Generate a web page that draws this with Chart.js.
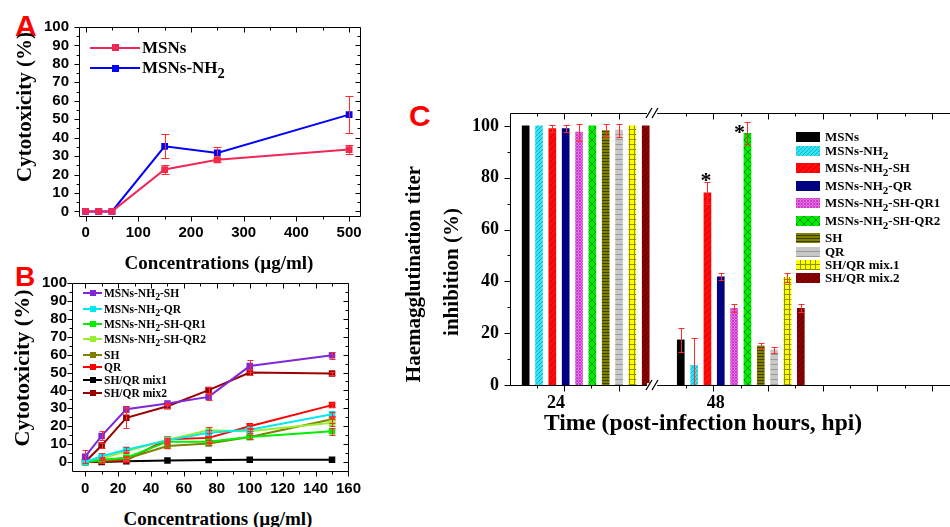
<!DOCTYPE html>
<html><head><meta charset="utf-8">
<script src="https://cdn.jsdelivr.net/npm/chart.js@4.4.1/dist/chart.umd.min.js"></script>
<style>
html,body{margin:0;padding:0;background:#fff;}
body{width:950px;height:527px;overflow:hidden;position:relative;font-family:"Liberation Serif",serif;}
.box{position:absolute;overflow:hidden;}
.letter{position:absolute;color:#ff0000;font-family:"Liberation Sans",Arial,sans-serif;font-weight:bold;line-height:1;}
.title{position:absolute;font-family:"Liberation Serif","Times New Roman",serif;font-weight:bold;white-space:nowrap;line-height:1;color:#000;}
.rot{transform:translate(-50%,-50%) rotate(-90deg);}
.hor{transform:translate(-50%,-50%);}
.leg{position:absolute;font-family:"Liberation Serif","Times New Roman",serif;font-weight:bold;white-space:nowrap;color:#000;}
.row{position:absolute;left:0;display:flex;align-items:center;}
sub{font-size:85%;vertical-align:-0.32em;line-height:0;}
</style></head><body>

<div class="letter" style="left:15px;top:11px;font-size:30px">A</div>
<div class="letter" style="left:15px;top:263px;font-size:28px">B</div>
<div class="letter" style="left:409px;top:101px;font-size:30px">C</div>

<div class="box" style="left:0;top:0;width:370px;height:245px"><canvas id="cA" width="370" height="245"></canvas></div>
<div class="box" style="left:0;top:265px;width:370px;height:230px"><canvas id="cB" width="370" height="230"></canvas></div>
<div class="box" style="left:400px;top:60px;width:550px;height:400px"><canvas id="cC" width="560" height="400"></canvas></div>

<div class="title rot" style="left:24px;top:107px;font-size:21px">Cytotoxicity (%)</div>
<div class="title hor" style="left:219px;top:262px;font-size:19px">Concentrations (µg/ml)</div>
<div class="title rot" style="left:22px;top:368px;font-size:22px">Cytotoxicity (%)</div>
<div class="title hor" style="left:218px;top:518px;font-size:19px">Concentrations (µg/ml)</div>
<div class="title rot" style="left:413px;top:274px;font-size:21px">Haemagglutination titer</div>
<div class="title rot" style="left:451px;top:272px;font-size:21px">inhibition (%)</div>
<div class="title hor" style="left:703px;top:423px;font-size:23.5px">Time (post-infection hours, hpi)</div>

<div id="legA" class="leg" style="left:90px;top:0;font-size:17px"></div>
<div id="legB" class="leg" style="left:83px;top:0;font-size:11.5px"></div>
<div id="legC" class="leg" style="left:796px;top:0;font-size:13px"></div>

<script>
// ================= DATA =================
// Panel A
const concA = [0, 25, 50, 150, 250, 500];
const seriesA = ['MSNs', 'MSNs-NH2'];
const msnsA = [0, 0, 0, 22.7, 28.0, 33.5];
const msnsErrA = [0, 0, 0, 2.6, 1.0, 2.6];
const nh2A = [0, 0, 0, 35.3, 31.7, 52.5];
const nh2ErrA = [0, 0, 0, 6.5, 3.0, 10.0];
const xTicksA = [0, 100, 200, 300, 400, 500];
const yTicksA = [0, 10, 20, 30, 40, 50, 60, 70, 80, 90, 100];

// Panel B
const concB = [0, 10, 25, 50, 75, 100, 150];
const seriesB = ['MSNs-NH2-SH', 'MSNs-NH2-QR', 'MSNs-NH2-SH-QR1', 'MSNs-NH2-SH-QR2', 'SH', 'QR', 'SH/QR mix1', 'SH/QR mix2'];
const nh2ShB    = [3.0, 14.6, 29.5, 32.7, 36.4, 53.6, 59.6];
const nh2QrB    = [0, 3.2, 6.9, 12.1, 16.3, 18.1, 26.7];
const shQr1B    = [0, 1.3, 2.4, 11.4, 11.4, 14.0, 17.2];
const shQr2B    = [0, 1.9, 6.0, 12.5, 17.8, 17.2, 21.9];
const shB       = [0, 0.9, 1.9, 9.0, 10.3, 14.0, 23.9];
const qrB       = [0, 0.4, 1.0, 12.7, 13.5, 20.0, 31.8];
const mix1B     = [0, 0, 0.5, 0.9, 1.1, 1.3, 1.3];
const mix2B     = [0, 9.2, 24.7, 31.2, 40.2, 50.0, 49.5];
const nh2ShErrB = [3.5, 2.5, 1.5, 1.0, 1.5, 3.5, 2.0];
const nh2QrErrB = [0, 2.0, 1.5, 1.0, 1.5, 1.0, 1.5];
const shQr1ErrB = [0, 1.0, 1.0, 1.0, 1.0, 1.0, 2.0];
const shQr2ErrB = [0, 1.0, 1.0, 1.0, 1.5, 1.0, 2.0];
const shErrB    = [0, 1.0, 1.0, 1.0, 1.0, 1.0, 2.0];
const qrErrB    = [0, 0.5, 0.5, 1.0, 1.0, 1.0, 1.0];
const mix1ErrB  = [0, 0, 0, 0, 0, 0, 0];
const mix2ErrB  = [0, 1.5, 5.5, 1.0, 1.5, 1.5, 1.0];
const xTicksB = [0, 20, 40, 60, 80, 100, 120, 140, 160];
const yTicksB = [0, 10, 20, 30, 40, 50, 60, 70, 80, 90, 100];

// Panel C
const timesC = ['24', '48'];
const seriesC = ['MSNs', 'MSNs-NH2', 'MSNs-NH2-SH', 'MSNs-NH2-QR', 'MSNs-NH2-SH-QR1', 'MSNs-NH2-SH-QR2', 'SH', 'QR', 'SH/QR mix.1', 'SH/QR mix.2'];
const inhib24    = [100, 100, 99.0, 99.0, 97.6, 100, 98.2, 98.4, 100, 100];
const inhib24Err = [0, 0, 1.3, 1.3, 3.3, 0, 2.5, 2.5, 0, 0];
const inhib48    = [17.4, 7.6, 74.2, 41.8, 29.6, 97.2, 15.1, 13.5, 41.6, 29.6];
const inhib48Err = [4.5, 10.7, 4.3, 1.4, 1.5, 4.3, 1.0, 1.1, 1.8, 1.5];
const yTicksC = [0, 20, 40, 60, 80, 100];
const starsC = ['MSNs-NH2-SH', 'MSNs-NH2-SH-QR2'];   // significant at 48 hpi

// ================= STYLE =================
const SERIF = '"Liberation Serif", "Times New Roman", serif';
const SANS = '"Liberation Sans", Arial, sans-serif';
const colorsA = ['#f0285a', '#0000ff'];
const colorsB = ['#7f28d8', '#00e8f0', '#00ee00', '#99ee33', '#808000', '#ff0000', '#000000', '#990000'];
const patC = [
  ['#000000', null, 'solid', 6],
  ['#33e6f0', '#1fa8c8', 'diag', 4],
  ['#ff0a0a', '#d80000', 'diag', 6],
  ['#000080', null, 'solid', 6],
  ['#f070f0', '#c040c0', 'cross', 3],
  ['#00ee00', '#009000', 'cross', 8],
  ['#808000', '#404000', 'hline', 3],
  ['#c8c8c8', '#9a9a9a', 'hline', 5],
  ['#ffff00', '#909000', 'grid', 5],
  ['#8b0000', '#5a0000', 'diag', 5]
];

Chart.defaults.animation = false;
Chart.defaults.color = '#000';
Chart.defaults.plugins.legend.display = false;
Chart.defaults.plugins.tooltip.enabled = false;

function tile(bg, fg, kind, s) {
  const c = document.createElement('canvas'); c.width = s; c.height = s;
  const g = c.getContext('2d');
  g.fillStyle = bg; g.fillRect(0, 0, s, s);
  if (fg) {
    g.strokeStyle = fg; g.lineWidth = 1; g.beginPath();
    const diag = () => { g.moveTo(-1, s + 1); g.lineTo(s + 1, -1); g.moveTo(-1, 1); g.lineTo(1, -1); g.moveTo(s - 1, s + 1); g.lineTo(s + 1, s - 1); };
    const anti = () => { g.moveTo(-1, -1); g.lineTo(s + 1, s + 1); g.moveTo(s - 1, -1); g.lineTo(s + 1, 1); g.moveTo(-1, s - 1); g.lineTo(1, s + 1); };
    if (kind === 'diag') diag();
    if (kind === 'cross') { diag(); anti(); }
    if (kind === 'hline') { g.moveTo(0, s - 0.5); g.lineTo(s, s - 0.5); }
    if (kind === 'grid') { g.moveTo(0, s - 0.5); g.lineTo(s, s - 0.5); g.moveTo(s - 0.5, 0); g.lineTo(s - 0.5, s); }
    g.stroke();
  }
  return c;
}
const tilesC = patC.map(p => tile(p[0], p[1], p[2], p[3]));

const fmt = n => n.replace('NH2', 'NH<sub>2</sub>');

// ---------- plugins ----------
const errorBars = {
  id: 'errorBars',
  afterDatasetsDraw(chart) {
    const { ctx, chartArea: a } = chart; const ys = chart.scales.y;
    ctx.save(); ctx.beginPath(); ctx.rect(a.left, a.top - 20, a.right - a.left, a.bottom - a.top + 20); ctx.clip();
    chart.data.datasets.forEach((ds, i) => {
      if (!ds.errors) return;
      const meta = chart.getDatasetMeta(i);
      meta.data.forEach((el, j) => {
        const e = ds.errors[j]; if (!e) return;
        const v = ds.data[j].y;
        const y1 = Math.round(ys.getPixelForValue(v + e)) + 0.5, y2 = Math.round(ys.getPixelForValue(v - e)) + 0.5;
        const x = Math.round(el.x) + 0.5, w = ds.errCap || 3;
        ctx.strokeStyle = '#ff2a2a'; ctx.lineWidth = 1;
        ctx.beginPath(); ctx.moveTo(x, y1); ctx.lineTo(x, y2);
        ctx.moveTo(x - w, y1); ctx.lineTo(x + w, y1); ctx.moveTo(x - w, y2); ctx.lineTo(x + w, y2);
        ctx.stroke();
      });
    });
    ctx.restore();
  }
};

const frame = {
  id: 'frame',
  afterDraw(chart, args, o) {
    if (!o || !o.on) return;
    const { ctx, chartArea: a } = chart; const xs = chart.scales.x, ys = chart.scales.y;
    const r = v => Math.round(v) + 0.5;
    const L = r(a.left), R = r(a.right), T = r(a.top), B = r(a.bottom);
    ctx.save(); ctx.strokeStyle = '#000'; ctx.lineWidth = 1;
    ctx.beginPath();
    ctx.moveTo(L, T); ctx.lineTo(L, B); ctx.lineTo(R, B); ctx.lineTo(R, T); ctx.closePath();
    const xt = (vals, len) => vals.forEach(v => { const x = r(xs.getPixelForValue(v)); ctx.moveTo(x, B); ctx.lineTo(x, B + len); ctx.moveTo(x, T); ctx.lineTo(x, T + len); });
    const yt = (vals, len) => vals.forEach(v => { const y = r(ys.getPixelForValue(v)); ctx.moveTo(L - len, y); ctx.lineTo(L, y); ctx.moveTo(R - len, y); ctx.lineTo(R, y); });
    xt(o.xMajor || [], o.majorLen); xt(o.xMinor || [], o.minorLen);
    yt(o.yMajor || [], o.majorLen); yt(o.yMinor || [], o.minorLen);
    ctx.stroke();
    if (o.breakAt != null) {
      const x = xs.getPixelForValue(o.breakAt);
      [a.top, a.bottom].forEach(y => {
        ctx.fillStyle = '#fff'; ctx.fillRect(x - 5, y - 2, 10, 4);
        ctx.beginPath(); ctx.lineWidth = 1.3;
        [-3, 3].forEach(d => { ctx.moveTo(x + d - 3, y + 5); ctx.lineTo(x + d + 3, y - 5); });
        ctx.stroke();
      });
    }
    ctx.restore();
  }
};

const stars = {
  id: 'stars',
  afterDatasetsDraw(chart, args, o) {
    if (!o || !o.items) return;
    const { ctx } = chart;
    ctx.save(); ctx.fillStyle = '#000'; ctx.font = 'bold 22px ' + SERIF; ctx.textAlign = 'center'; ctx.textBaseline = 'alphabetic';
    o.items.forEach(it => {
      const i = chart.data.datasets.findIndex(d => d.label === it.name);
      const el = chart.getDatasetMeta(i).data[it.group];
      ctx.fillText('*', el.x + it.dx, el.y + it.dy + 11);
    });
    ctx.restore();
  }
};
Chart.register(errorBars, frame, stars);

function tickList(arr) { return s => { s.ticks = arr.map(v => ({ value: v })); }; }
function range(a, b, st) { const o = []; for (let v = a; v <= b + 1e-9; v += st) o.push(+v.toFixed(4)); return o; }

// ---------- Panel A ----------
const valsA = [msnsA, nh2A], errsA = [msnsErrA, nh2ErrA];
new Chart(document.getElementById('cA'), {
  type: 'line',
  data: {
    datasets: seriesA.map((n, i) => ({
      label: n, data: concA.map((c, k) => ({ x: c, y: valsA[i][k] })), errors: errsA[i], errCap: 4,
      borderColor: colorsA[i], backgroundColor: colorsA[i], borderWidth: 2,
      pointStyle: 'rect', pointRadius: 4.8, pointBorderWidth: 0, pointBackgroundColor: colorsA[i], tension: 0
    }))
  },
  options: {
    responsive: false, layout: { padding: { top: 27, right: 10, left: 0, bottom: 0 } },
    scales: {
      x: { type: 'linear', min: -12.5, max: 520, afterBuildTicks: tickList(xTicksA), afterFit: s => { s.height = 29; },
        grid: { display: false, drawTicks: false }, border: { display: false },
        ticks: { padding: 8, maxRotation: 0, autoSkip: false, font: { family: SANS, weight: 'bold', size: 15 } } },
      y: { min: -2.5, max: 100, afterBuildTicks: tickList(yTicksA), afterFit: s => { s.width = 79; },
        grid: { display: false, drawTicks: false }, border: { display: false },
        ticks: { padding: 10, autoSkip: false, font: { family: SANS, weight: 'bold', size: 15 } } }
    },
    plugins: { frame: { on: true, majorLen: 5, minorLen: 3, xMajor: xTicksA, xMinor: range(50, 450, 100), yMajor: yTicksA, yMinor: range(5, 95, 10) } }
  }
});

// ---------- Panel B ----------
const valsB = [nh2ShB, nh2QrB, shQr1B, shQr2B, shB, qrB, mix1B, mix2B];
const errsB = [nh2ShErrB, nh2QrErrB, shQr1ErrB, shQr2ErrB, shErrB, qrErrB, mix1ErrB, mix2ErrB];
new Chart(document.getElementById('cB'), {
  type: 'line',
  data: {
    datasets: seriesB.map((n, i) => ({
      label: n, data: concB.map((c, k) => ({ x: c, y: valsB[i][k] })), errors: errsB[i], errCap: 3,
      borderColor: colorsB[i], backgroundColor: colorsB[i], borderWidth: 2,
      pointStyle: 'rect', pointRadius: 4.6, pointBorderWidth: 0, pointBackgroundColor: colorsB[i], tension: 0
    }))
  },
  options: {
    responsive: false, layout: { padding: { top: 18, right: 11, left: 0, bottom: 0 } },
    scales: {
      x: { type: 'linear', min: -8, max: 160, afterBuildTicks: tickList(xTicksB), afterFit: s => { s.height = 24; },
        grid: { display: false, drawTicks: false }, border: { display: false },
        ticks: { padding: 9, maxRotation: 0, autoSkip: false, font: { family: SANS, weight: 'bold', size: 15 } } },
      y: { min: -5, max: 100, afterBuildTicks: tickList(yTicksB), afterFit: s => { s.width = 72; },
        grid: { display: false, drawTicks: false }, border: { display: false },
        ticks: { padding: 5, autoSkip: false, font: { family: SANS, weight: 'bold', size: 15 } } }
    },
    plugins: { frame: { on: true, majorLen: 5, minorLen: 3, xMajor: xTicksB, xMinor: range(10, 150, 20), yMajor: yTicksB, yMinor: range(5, 95, 10) } }
  }
});

// ---------- Panel C ----------
const X_MIN = -0.488, X_MAX = 2.4134;       // group index axis (24 hpi = 0, 48 hpi = 1)
const BAR_STEP = 0.086, TICK_STEP = 0.17621;
const LABEL_POS = [-0.191, 0.838];
const majorsC = [-0.140, -0.140 + 2 * TICK_STEP].concat(range(0, 4, 1).map(k => 0.823 + 2 * k * TICK_STEP));
const minorsC = [-0.140 - TICK_STEP, -0.140 + TICK_STEP].concat(range(0, 4, 1).map(k => 0.823 + (2 * k - 1) * TICK_STEP));
const ctxC = document.getElementById('cC').getContext('2d');
new Chart(ctxC, {
  type: 'bar',
  data: {
    datasets: seriesC.map((n, i) => ({
      label: n,
      data: timesC.map((t, g) => ({ x: g + (i - 4.5) * BAR_STEP, y: [inhib24, inhib48][g][i] })),
      errors: timesC.map((t, g) => [inhib24Err, inhib48Err][g][i]), errCap: 3,
      backgroundColor: ctxC.createPattern(tilesC[i], 'repeat'), borderWidth: 0,
      barThickness: 7, grouped: false
    }))
  },
  options: {
    responsive: false, layout: { padding: { top: 53, right: 0, left: 0, bottom: 0 } },
    scales: {
      x: { type: 'linear', offset: false, min: X_MIN, max: X_MAX, afterBuildTicks: tickList(LABEL_POS), afterFit: s => { s.height = 75; },
        grid: { display: false, drawTicks: false }, border: { display: false },
        ticks: { padding: 8, maxRotation: 0, autoSkip: false, callback: (v, i) => timesC[i], font: { family: SERIF, weight: 'bold', size: 18 } } },
      y: { min: 0, max: 105, afterBuildTicks: tickList(yTicksC), afterFit: s => { s.width = 110; },
        grid: { display: false, drawTicks: false }, border: { display: false },
        ticks: { padding: 11, autoSkip: false, font: { family: SERIF, weight: 'bold', size: 18 } } }
    },
    plugins: {
      frame: { on: true, majorLen: 6, minorLen: 3, xMajor: majorsC, xMinor: minorsC, yMajor: yTicksC, yMinor: range(10, 90, 20), breakAt: 0.4275 },
      stars: { items: [{ name: starsC[0], group: 1, dx: -1.5, dy: -17 }, { name: starsC[1], group: 1, dx: -8, dy: -5 }] }
    }
  }
});

// ---------- HTML legends ----------
function lineLegend(el, names, colors, lineW, mark, rowCenters) {
  names.forEach((n, i) => {
    const row = document.createElement('div'); row.className = 'row';
    row.style.top = (rowCenters[i] - 10) + 'px'; row.style.height = '20px';
    row.innerHTML = '<span style="position:relative;display:inline-block;width:' + lineW + 'px;height:10px;margin-right:2px">' +
      '<span style="position:absolute;left:0;right:0;top:4px;height:2px;background:' + colors[i] + '"></span>' +
      '<span style="position:absolute;left:' + (lineW / 2 - mark / 2) + 'px;top:' + (5 - mark / 2) + 'px;width:' + mark + 'px;height:' + mark + 'px;background:' + colors[i] + '"></span></span>' +
      '<span>' + fmt(n) + '</span>';
    el.appendChild(row);
  });
}
function centers(names, start, hSub, hPlain) {
  const out = []; let y = start;
  names.forEach(n => { out.push(y); y += /NH2/.test(n) ? hSub : hPlain; });
  return out;
}
lineLegend(document.getElementById('legA'), seriesA, colorsA, 50, 7, centers(seriesA, 47.7, 20.6, 20.6));
lineLegend(document.getElementById('legB'), seriesB, colorsB, 19, 6, centers(seriesB, 293.3, 15.3, 12.7));

const legC = document.getElementById('legC');
centers(seriesC, 137.3, 17.5, 13.4).forEach((cy, i) => {
  const row = document.createElement('div'); row.className = 'row';
  row.style.top = (cy - 8) + 'px'; row.style.height = '16px';
  row.innerHTML = '<span style="display:inline-block;width:24px;height:10px;margin-right:5px;background-image:url(' + tilesC[i].toDataURL() + ')"></span><span>' + fmt(seriesC[i]) + '</span>';
  legC.appendChild(row);
});
</script>
</body></html>
